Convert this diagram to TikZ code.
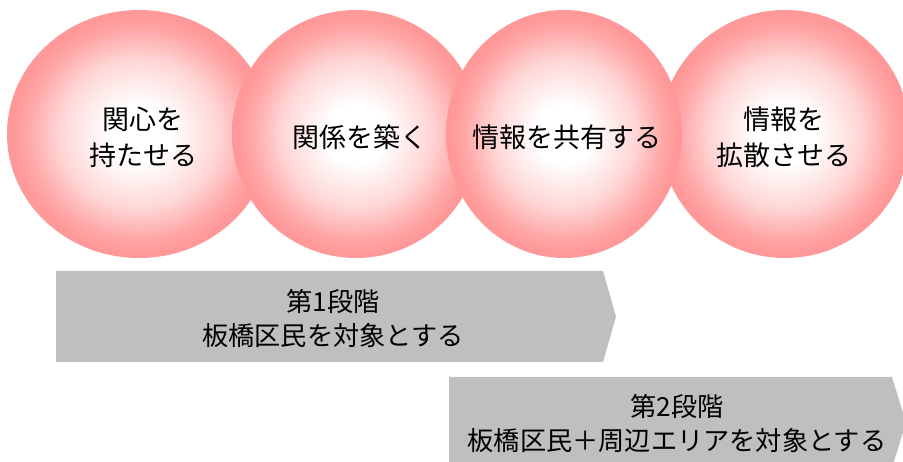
\documentclass[tikz,border=0pt]{standalone}
\usepackage{fontspec}
\setmainfont{Noto Sans CJK JP}
\usetikzlibrary{shapes.geometric}
\definecolor{ballpink}{RGB}{255,152,152}
\definecolor{stepgray}{RGB}{191,191,191}
\pgfdeclareradialshading{ballshade}{\pgfpoint{0bp}{0bp}}{color(0bp)=(white); color(6bp)=(white); color(15bp)=(ballpink!40!white); color(21bp)=(ballpink!85!white); color(24bp)=(ballpink); color(50bp)=(ballpink)}
\tikzset{
  ball/.style={ellipse, shading=ballshade, minimum height=248pt, inner sep=0pt},
  balltext/.style={align=center, font=\fontsize{27}{36}\selectfont},
  stagebox/.style={fill=stepgray, draw=none},
  stagetext/.style={align=center, font=\fontsize{26.2}{34}\selectfont}
}
\begin{document}
\begin{tikzpicture}[x=1pt,y=-1pt]
\useasboundingbox (0,0) rectangle (903,462);
\clip (0,0) rectangle (903,462);
% circles (order: 1, 2, 4, 3)
\node[ball, minimum width=264pt] (c1) at (139,134) {};
\node[ball, minimum width=248pt] (c2) at (356,134) {};
\node[ball, minimum width=250pt] (c4) at (785,134) {};
\node[ball, minimum width=236pt] (c3) at (564,134) {};
\node[balltext] (t1) at (143,137) {関心を\\持たせる};
\node[balltext] (t2) at (360,137) {関係を築く};
\node[balltext] (t3) at (567,137) {情報を共有する};
\node[balltext] (t4) at (784,137) {情報を\\拡散させる};
% stage arrows
\fill[stagebox] (56,271) -- (603,271) -- (616,316.5) -- (603,362) -- (56,362) -- cycle;
\node[stagetext] (s1) at (333,318.5) {第1段階\\板橋区民を対象とする};
\fill[stagebox] (449,377) -- (892,377) -- (906,422.5) -- (892,468) -- (449,468) -- cycle;
\node[stagetext] (s2) at (677,424) {第2段階\\板橋区民＋周辺エリアを対象とする};
\end{tikzpicture}
\end{document}
